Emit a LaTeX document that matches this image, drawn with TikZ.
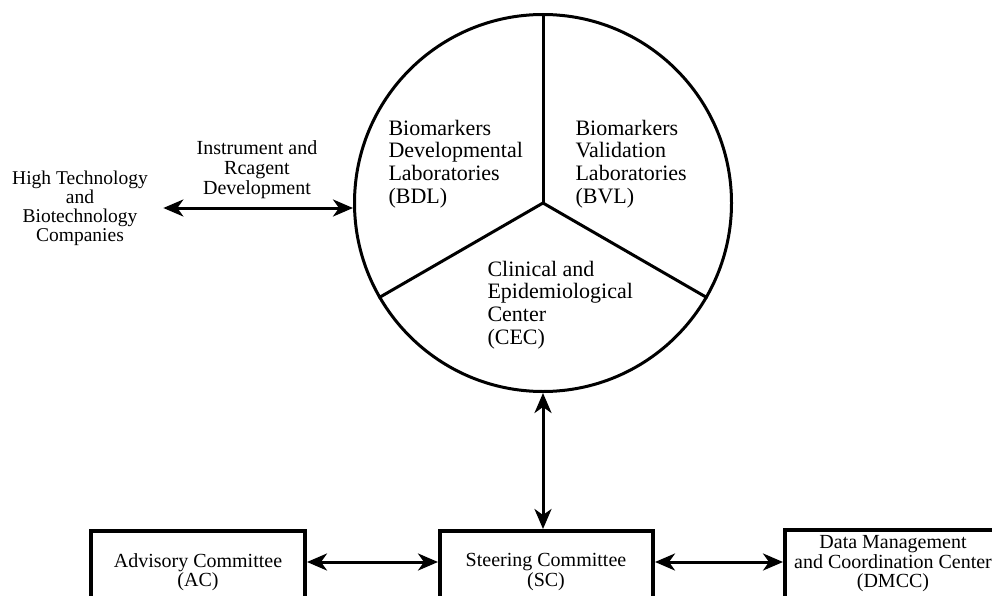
\documentclass[tikz,border=0pt]{standalone}
\usepackage{fontspec}
\setmainfont{Liberation Serif}
\usetikzlibrary{arrows.meta,positioning}

\begin{document}
\begin{tikzpicture}[
		x=1pt, y=-1pt,
		link/.style={arrows={Stealth[length=20pt, width=17pt, inset=6pt]-Stealth[length=20pt, width=17pt, inset=6pt]}, line width=3pt},
		sector/.style={align=left, anchor=west, font=\fontsize{22}{22.7}\selectfont},
		plain/.style={align=center, font=\fontsize{19.5}{19}\selectfont},
		boxtext/.style={align=center, font=\fontsize{20}{19.5}\selectfont},
		frame/.style={draw, line width=4pt, minimum height=90pt, anchor=north west},
	]
		\useasboundingbox (0,0) rectangle (992,596);
		\clip (0,0) rectangle (992,596);
		
		\node (hub) [circle, draw, line width=3pt, minimum size=377pt] at (543,203) {};
		\draw[line width=3pt] (hub.center) -- (hub.90);
		\draw[line width=3pt] (hub.center) -- (hub.210);
		\draw[line width=3pt] (hub.center) -- (hub.330);
		
		\node (bdl) [sector] at (385,164) {Biomarkers\\Developmental\\Laboratories\\(BDL)};
		\node (bvl) [sector] at (572,164) {Biomarkers\\Validation\\Laboratories\\(BVL)};
		\node (cec) [sector] at (484,305) {Clinical and\\Epidemiological\\Center\\(CEC)};
		
		\node (hitech) [plain] at (80,208) {High Technology\\and\\Biotechnology\\Companies};
		\node (ird) [plain, font=\fontsize{20}{20}\selectfont] at (257,170) {Instrument and\\Rcagent\\Development};
		
		\node (acbox) [frame, minimum width=214pt] at (89,529) {};
		\node (scbox) [frame, minimum width=213pt] at (438,529) {};
		\node (dmccbox) [frame, minimum width=300pt] at (783,528) {};
		\node (ac) [boxtext] at (198,572) {Advisory Committee\\(AC)};
		\node (sc) [boxtext] at (546,572) {Steering Committee\\(SC)};
		\node (dmcc) [boxtext] at (893,564) {Data Management\\and Coordination Center\\(DMCC)};
		
		\coordinate (midrow) at (0,562);
		
		\draw[link, shorten <=12pt] (hitech.east) -- (hitech.east -| hub.west);
		\draw[link] (hub.south) -- (hub.south |- scbox.north);
		\draw[link] (acbox.east |- midrow) -- (scbox.west |- midrow);
		\draw[link] (scbox.east |- midrow) -- (dmccbox.west |- midrow);
	\end{tikzpicture}
\end{document}
